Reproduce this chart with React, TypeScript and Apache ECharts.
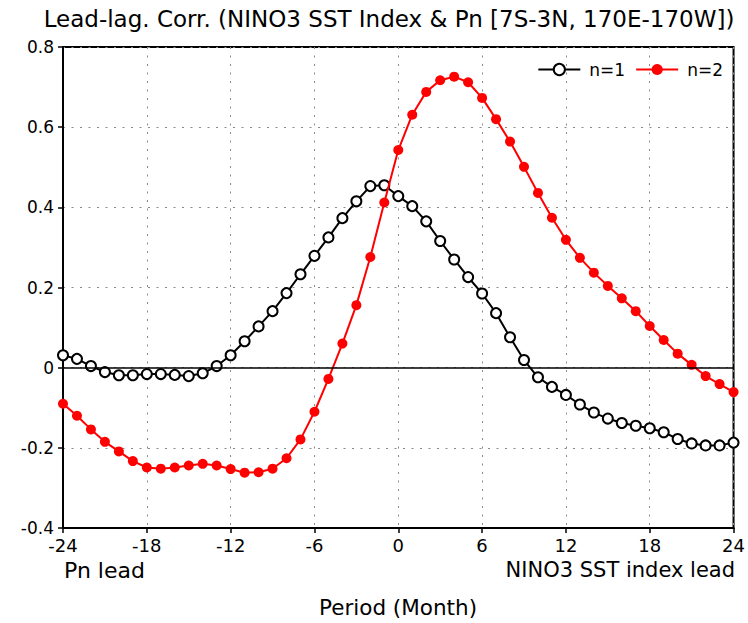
import React, { useEffect, useRef } from "react";
import * as echarts from "echarts";

const months = [
  -24, -23, -22, -21, -20, -19, -18, -17, -16, -15, -14, -13, -12, -11, -10, -9, -8, -7, -6, -5, -4, -3, -2, -1,
  0, 1, 2, 3, 4, 5, 6, 7, 8, 9, 10, 11, 12, 13, 14, 15, 16, 17, 18, 19, 20, 21, 22, 23, 24,
];

const n1 = [
  0.031, 0.022, 0.004, -0.011, -0.019, -0.019, -0.016, -0.016, -0.018, -0.021, -0.014, 0.004, 0.031, 0.066,
  0.103, 0.141, 0.186, 0.233, 0.279, 0.325, 0.373, 0.415, 0.453, 0.455, 0.428, 0.403, 0.365, 0.316, 0.27,
  0.226, 0.185, 0.136, 0.076, 0.019, -0.024, -0.048, -0.068, -0.092, -0.112, -0.127, -0.138, -0.145, -0.151,
  -0.161, -0.178, -0.189, -0.194, -0.194, -0.187,
];

const n2 = [
  -0.09, -0.12, -0.154, -0.185, -0.209, -0.233, -0.249, -0.252, -0.249, -0.244, -0.24, -0.244, -0.253, -0.262,
  -0.261, -0.252, -0.226, -0.179, -0.11, -0.028, 0.06, 0.156, 0.276, 0.412, 0.543, 0.631, 0.688, 0.717, 0.726,
  0.712, 0.673, 0.62, 0.564, 0.501, 0.436, 0.374, 0.319, 0.274, 0.237, 0.204, 0.173, 0.141, 0.104, 0.069,
  0.035, 0.007, -0.021, -0.041, -0.061,
];

const seriesNames = ["n=1", "n=2"];
const titleText = "Lead-lag. Corr. (NINO3 SST Index & Pn [7S-3N, 170E-170W])";
const leftNote = "Pn lead";
const rightNote = "NINO3 SST index lead";
const xTitle = "Period (Month)";

const FONT = "DejaVu Sans";

export default function App() {
  const ref = useRef<HTMLDivElement>(null);
  useEffect(() => {
    if (!ref.current) return;
    const chart = echarts.init(ref.current, null, { renderer: "svg" });
    const pair = (arr: number[]) => months.map((m, i) => [m, arr[i]]);
    chart.setOption({
      animation: false,
      backgroundColor: "#fff",
      textStyle: { fontFamily: FONT, color: "#000" },
      grid: {
        left: 63,
        right: 13,
        top: 47,
        bottom: 95,
        show: true,
        borderColor: "#000",
        borderWidth: 2,
        backgroundColor: "transparent",
      },
      legend: {
        right: 20,
        top: 56,
        itemWidth: 42,
        itemHeight: 14,
        itemGap: 10,
        textStyle: { fontFamily: FONT, fontSize: 17, color: "#000", padding: [0, 0, 0, 4] },
        data: seriesNames,
      },
      xAxis: {
        type: "value",
        min: -24,
        max: 24,
        interval: 6,
        axisLine: { show: true, onZero: false, lineStyle: { color: "#000", width: 2 } },
        axisTick: { show: true, length: 5, lineStyle: { color: "#000", width: 1.5 } },
        axisLabel: { fontFamily: FONT, fontSize: 18, color: "#000", margin: 8 },
        splitLine: { show: true, lineStyle: { color: "#8a8a8a", width: 1, type: [2, 6.5] } },
      },
      yAxis: {
        type: "value",
        min: -0.4,
        max: 0.8,
        interval: 0.2,
        axisLine: { show: true, onZero: false, lineStyle: { color: "#000", width: 2 } },
        axisTick: { show: true, length: 5, lineStyle: { color: "#000", width: 1.5 } },
        axisLabel: {
          fontFamily: FONT,
          fontSize: 17,
          color: "#000",
          margin: 9,
          formatter: (v: number) => (Math.abs(v) < 1e-9 ? "0" : v.toFixed(1)),
        },
        splitLine: { show: true, lineStyle: { color: "#8a8a8a", width: 1, type: [2, 6.5] } },
      },
      series: [
        {
          name: seriesNames[0],
          type: "line",
          data: pair(n1),
          symbol: "circle",
          symbolSize: 10,
          lineStyle: { color: "#000", width: 2 },
          itemStyle: { color: "#fff", borderColor: "#000", borderWidth: 2 },
          markLine: {
            silent: true,
            symbol: "none",
            label: { show: false },
            lineStyle: { color: "#000", width: 1.5, type: "solid" },
            data: [{ yAxis: 0 }],
          },
          z: 2,
        },
        {
          name: seriesNames[1],
          type: "line",
          data: pair(n2),
          symbol: "circle",
          symbolSize: 10,
          lineStyle: { color: "#f00", width: 2 },
          itemStyle: { color: "#f00", borderColor: "#f00", borderWidth: 0 },
          z: 3,
        },
      ],
      graphic: [
        {
          type: "text",
          x: 389,
          y: 19,
          style: { text: titleText, font: `23px "${FONT}"`, fill: "#000", textAlign: "center", textVerticalAlign: "middle" },
        },
        {
          type: "text",
          x: 64,
          y: 570,
          style: { text: leftNote, font: `22px "${FONT}"`, fill: "#000", textAlign: "left", textVerticalAlign: "middle" },
        },
        {
          type: "text",
          x: 735,
          y: 570,
          style: { text: rightNote, font: `21px "${FONT}"`, fill: "#000", textAlign: "right", textVerticalAlign: "middle" },
        },
        {
          type: "text",
          x: 398,
          y: 607,
          style: { text: xTitle, font: `21.5px "${FONT}"`, fill: "#000", textAlign: "center", textVerticalAlign: "middle" },
        },
      ],
    });
    return () => chart.dispose();
  }, []);
  return <div ref={ref} style={{ width: 748, height: 623, position: "absolute", left: 0, top: 0 }} />;
}
